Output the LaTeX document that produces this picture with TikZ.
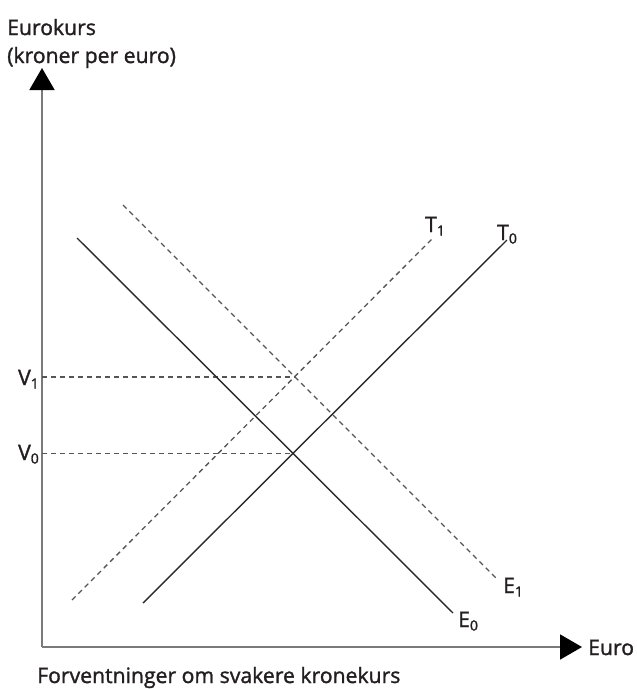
\documentclass[tikz,border=0pt]{standalone}
\usepackage{fontspec}
\setmainfont{Open Sans}[FakeBold=1.4]
\usetikzlibrary{arrows.meta}
\definecolor{axisgray}{HTML}{7A7A7A}
\definecolor{linegray}{HTML}{2A2A2A}
\definecolor{dashgray}{HTML}{555555}
\definecolor{txt}{HTML}{231F20}
\newcommand\mysub[1]{\raisebox{-3.5pt}{\fontsize{14}{14}\selectfont #1}}
\begin{document}
\begin{tikzpicture}[x=1pt,y=-1pt,
  lab/.style={inner sep=0pt,text=txt,font=\fontsize{21.2}{24}\selectfont},
  axisline/.style={draw=axisgray,line width=1.8pt},
  curve/.style={draw=linegray,line width=1.4pt},
  dcurve/.style={draw=dashgray,line width=1.3pt,dash pattern=on 5pt off 4pt},
  guide/.style={draw=dashgray,line width=1.2pt,dash pattern=on 5pt off 4pt}]
\useasboundingbox (0,0) rectangle (637,689);
% axes
\coordinate (O) at (42,647);
\coordinate (ytip) at (42,68);
\coordinate (xtip) at (582,647);
\draw[axisline,-{Triangle[length=22pt,width=25pt,color=black,fill=black]}] (O) -- (ytip);
\draw[axisline,-{Triangle[length=22pt,width=25pt,color=black,fill=black]}] (O) -- (xtip);
% curve end points
\coordinate (E0a) at (77,238);  \coordinate (E0b) at (453,613);
\coordinate (E1a) at (123,205); \coordinate (E1b) at (498,580);
\coordinate (T0a) at (143,603); \coordinate (T0b) at (507,240);
\coordinate (T1a) at (72,600);  \coordinate (T1b) at (433,238);
\coordinate (P0) at (292.5,453.5);
\coordinate (P1) at (295,377);
\coordinate (Y0) at (42,453.5);
\coordinate (Y1) at (42,377);
% guides
\draw[guide] (Y1) -- (P1);
\draw[guide] (Y0) -- (P0);
% curves
\draw[curve] (E0a) -- (E0b);
\draw[curve] (T0a) -- (T0b);
\draw[dcurve] (E1a) -- (E1b);
\draw[dcurve] (T1a) -- (T1b);
% labels
\node[lab,anchor=base west] (ylab1) at (7,35) {Eurokurs};
\node[lab,anchor=base west] (ylab2) at (7,63) {(kroner per euro)};
\node[lab,anchor=base east] (V1) at (39,385) {V\mysub{1}};
\node[lab,anchor=base east] (V0) at (39,460) {V\mysub{0}};
\node[lab,anchor=base west] (T1) at (425,232) {T\mysub{1}};
\node[lab,anchor=base west] (T0) at (497,240) {T\mysub{0}};
\node[lab,anchor=base west] (E1) at (503,593) {E\mysub{1}};
\node[lab,anchor=base west] (E0) at (458,627) {E\mysub{0}};
\node[lab,anchor=base west] (xlab) at (588,655) {Euro};
\node[lab,anchor=base west] (cap) at (37,683) {Forventninger om svakere kronekurs};
\end{tikzpicture}
\end{document}
